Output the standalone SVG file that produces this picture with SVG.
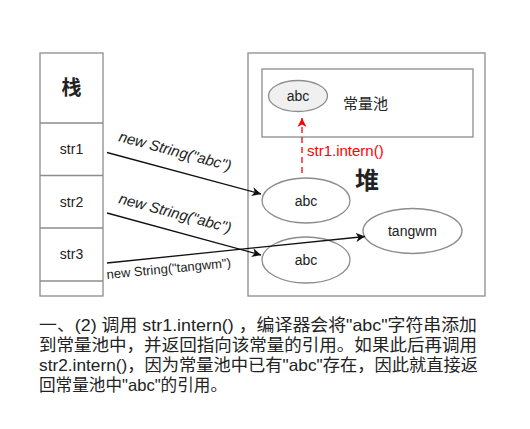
<svg xmlns="http://www.w3.org/2000/svg" width="530" height="429" viewBox="0 0 530 429">
<style>
.box{fill:#fff;stroke:#8c8c8c;stroke-width:1.3}
.ell{fill:#fff;stroke:#8c8c8c;stroke-width:1.3}
.t{font-family:"Liberation Sans","Noto Sans CJK SC",sans-serif;fill:#222}
.lbl{font-family:"Liberation Sans",sans-serif;font-style:italic;fill:#222}
.edge{stroke:#111;stroke-width:1.3;fill:none}
.cjk{font-family:"Liberation Sans","Noto Sans CJK SC",sans-serif;fill:#222;font-size:16.5px}
</style>
<defs>
<marker id="ah" markerWidth="10" markerHeight="10" refX="9" refY="5" orient="auto" markerUnits="userSpaceOnUse">
<path d="M0,0.5 L9,5 L0,9.5 L2.5,5 Z" fill="#111"/>
</marker>
<marker id="ahr" markerWidth="10" markerHeight="10" refX="9" refY="5" orient="auto" markerUnits="userSpaceOnUse">
<path d="M0,0.5 L9,5 L0,9.5 L2.5,5 Z" fill="#f00"/>
</marker>
</defs>
<rect width="530" height="429" fill="#fff"/>
<g id="stack">
<rect class="box" x="40" y="53" width="63" height="243"/>
<line class="box" x1="40" y1="123" x2="103" y2="123"/>
<line class="box" x1="40" y1="175.5" x2="103" y2="175.5"/>
<line class="box" x1="40" y1="228" x2="103" y2="228"/>
<line class="box" x1="40" y1="281" x2="103" y2="281"/>
<text class="t" x="71.5" y="95" font-size="20" font-weight="bold" text-anchor="middle">栈</text>
<text class="t" x="71.5" y="154" font-size="14" text-anchor="middle">str1</text>
<text class="t" x="71.5" y="207" font-size="14" text-anchor="middle">str2</text>
<text class="t" x="71.5" y="259" font-size="14" text-anchor="middle">str3</text>
</g>
<g id="heap">
<rect class="box" x="248" y="53" width="237" height="243"/>
<text class="t" x="367" y="189" font-size="24" font-weight="bold" text-anchor="middle">堆</text>
</g>
<g id="pool">
<rect class="box" x="262" y="69" width="211" height="68"/>
<text class="t" x="343" y="109" font-size="15">常量池</text>
</g>
<g id="pool-abc">
<ellipse cx="298" cy="96" rx="29.5" ry="15.5" fill="#f0f0f0" stroke="#8c8c8c" stroke-width="1.3"/>
<text class="t" x="298" y="101" font-size="14" text-anchor="middle">abc</text>
</g>
<g id="heap-abc1">
<ellipse class="ell" cx="306" cy="200.5" rx="44" ry="22.5"/>
<text class="t" x="306" y="205.5" font-size="14" text-anchor="middle">abc</text>
</g>
<g id="heap-abc2">
<ellipse class="ell" cx="306" cy="260" rx="44" ry="23"/>
<text class="t" x="306" y="265" font-size="14" text-anchor="middle">abc</text>
</g>
<g id="heap-tangwm">
<ellipse class="ell" cx="412.5" cy="231" rx="49.5" ry="22.5"/>
<text class="t" x="412.5" y="236" font-size="14" text-anchor="middle">tangwm</text>
</g>
<g id="connectors">
<line class="edge" x1="107" y1="152.5" x2="261" y2="194" marker-end="url(#ah)"/>
<line class="edge" x1="107" y1="213" x2="261" y2="255" marker-end="url(#ah)"/>
<line class="edge" x1="107" y1="263" x2="365" y2="236.5" marker-end="url(#ah)"/>
<line x1="302" y1="173" x2="302" y2="118" stroke="#f00" stroke-width="1.3" stroke-dasharray="6,4" marker-end="url(#ahr)"/>
<text class="lbl" font-size="15" transform="translate(118,141) rotate(15)">new String("abc")</text>
<text class="lbl" font-size="15" transform="translate(118,203) rotate(15)">new String("abc")</text>
<text class="t" font-size="13" transform="translate(107,279) rotate(-5.5)">new String("tangwm")</text>
<text x="307" y="156" font-family="Liberation Sans,sans-serif" font-size="15" fill="#f00">str1.intern()</text>
</g>
<g id="caption">
<text class="cjk" x="39" y="331" textLength="438" lengthAdjust="spacingAndGlyphs">一、(2)  调用 str1.intern() ，编译器会将"abc"字符串添加</text>
<text class="cjk" x="39" y="351" textLength="438" lengthAdjust="spacingAndGlyphs">到常量池中，并返回指向该常量的引用。如果此后再调用</text>
<text class="cjk" x="39" y="371" textLength="439" lengthAdjust="spacingAndGlyphs">str2.intern()，因为常量池中已有"abc"存在，因此就直接返</text>
<text class="cjk" x="39" y="391" textLength="188" lengthAdjust="spacingAndGlyphs">回常量池中"abc"的引用。</text>
</g>
</svg>
